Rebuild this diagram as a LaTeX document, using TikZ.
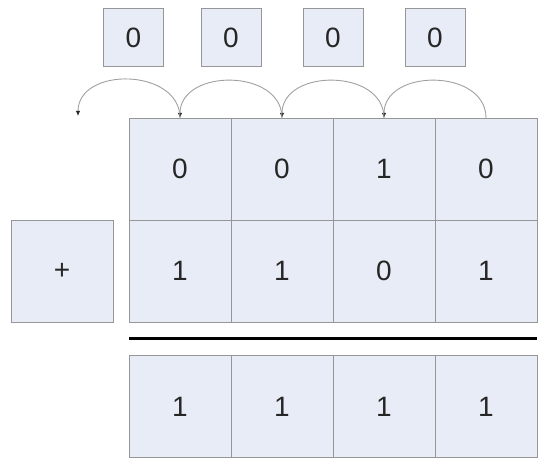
\documentclass[tikz,border=0pt]{standalone}
\usepackage{fontspec}
\setmainfont{Liberation Sans}
\usetikzlibrary{arrows.meta}
\definecolor{cellfill}{RGB}{232,236,246}
\definecolor{cellline}{RGB}{150,150,150}
\definecolor{arcline}{RGB}{160,160,160}
\begin{document}
\begin{tikzpicture}[x=1pt,y=1pt,
  cell/.style={draw=cellline,fill=cellfill,line width=0.9pt,minimum width=102pt,minimum height=102pt,inner sep=0pt,outer sep=0pt,text=black!85,font=\fontsize{28}{32}\selectfont},
  carrybox/.style={draw=cellline,fill=cellfill,line width=0.9pt,minimum width=60pt,minimum height=58pt,inner sep=0pt,outer sep=0pt,text=black!85,font=\fontsize{28}{32}\selectfont},
  carryarc/.style={draw=arcline,line width=0.9pt,-{Latex[length=5pt,width=4.5pt,color=black!85]},out=90,in=90,looseness=1.25}
]
\useasboundingbox (0,0) rectangle (550,-470);
% carry boxes
\node[carrybox] (c1) at (133.5,-37.5) {0};
\node[carrybox] (c2) at (231,-37.5) {0};
\node[carrybox] (c3) at (333,-37.5) {0};
\node[carrybox] (c4) at (435,-37.5) {0};
% first operand
\node[cell] (a1) at (180,-169) {0};
\node[cell] (a2) at (282,-169) {0};
\node[cell] (a3) at (384,-169) {1};
\node[cell] (a4) at (486,-169) {0};
% second operand
\node[cell] (b1) at (180,-271) {1};
\node[cell] (b2) at (282,-271) {1};
\node[cell] (b3) at (384,-271) {0};
\node[cell] (b4) at (486,-271) {1};
% plus
\node[cell] (plus) at (62,-271) {+};
% result line
\coordinate (l1) at (129,-339);
\coordinate (l2) at (537,-339);
\draw[line width=3pt,black] (l1) -- (l2);
% result
\node[cell] (r1) at (180,-406.5) {1};
\node[cell] (r2) at (282,-406.5) {1};
\node[cell] (r3) at (384,-406.5) {1};
\node[cell] (r4) at (486,-406.5) {1};
% carry arcs
\coordinate (out) at (78,-116);
\draw[carryarc] (a4.north) to (a3.north);
\draw[carryarc] (a3.north) to (a2.north);
\draw[carryarc] (a2.north) to (a1.north);
\draw[carryarc] (a1.north) to (out);
\end{tikzpicture}
\end{document}
